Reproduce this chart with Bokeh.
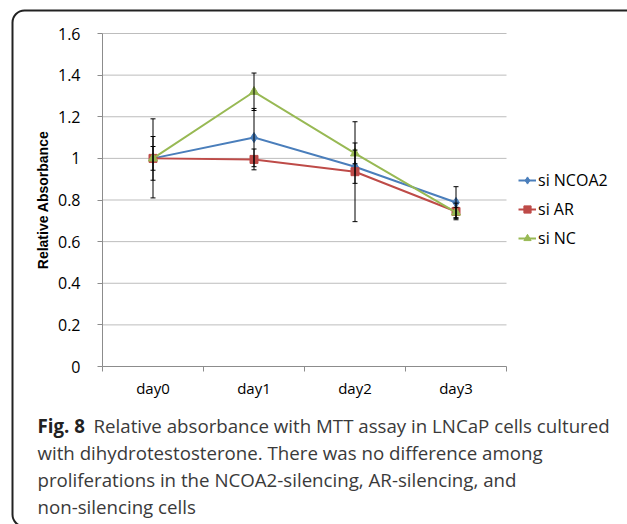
from bokeh.plotting import figure
from bokeh.models import (Range1d, FixedTicker, NumeralTickFormatter, Legend,
                          Label, BoxAnnotation)
from bokeh.embed import file_html
from bokeh.resources import INLINE

days = ["day0", "day1", "day2", "day3"]
ncoa2 = [1.0, 1.10, 0.96, 0.788]
ncoa2_err = [0.105, 0.14, 0.08, 0.076]
ar = [1.0, 0.995, 0.936, 0.745]
ar_err = [0.057, 0.05, 0.24, 0.04]
nc = [1.0, 1.32, 1.024, 0.74]
nc_err = [0.19, 0.09, 0.05, 0.025]
y_ticks = [0, 0.2, 0.4, 0.6, 0.8, 1.0, 1.2, 1.4, 1.6]

caption_bold = "Fig. 8"
caption_lines = [
    "Relative absorbance with MTT assay in LNCaP cells cultured",
    "with dihydrotestosterone. There was no difference among",
    "proliferations in the NCOA2-silencing, AR-silencing, and",
    "non-silencing cells",
]

xs = [i + 0.5 for i in range(len(days))]
y_max = y_ticks[-1]

W, H = 627, 524
# plot area (in canvas pixels) that the data region occupies
PX0, PX1 = 102, 506
PY0, PY1 = 366, 33
sx = (PX1 - PX0) / len(days)
sy = (PY0 - PY1) / y_max

p = figure(width=W, height=H, output_backend="svg", toolbar_location=None,
           x_range=Range1d(-PX0 / sx, (W - PX0) / sx),
           y_range=Range1d(-(H - PY0) / sy, PY0 / sy),
           min_border=0)
p.outline_line_color = None
p.grid.visible = False

xa = p.xaxis[0]
xa.fixed_location = 0
xa.bounds = (0, len(days))
xa.ticker = FixedTicker(ticks=xs, minor_ticks=list(range(len(days) + 1)))
xa.major_label_overrides = {x: d for x, d in zip(xs, days)}
xa.major_tick_out = 0
xa.major_tick_in = 0
xa.minor_tick_out = 5
xa.minor_tick_in = 0
xa.minor_tick_line_color = "#8c8c8c"
xa.axis_line_color = "#8c8c8c"
xa.major_label_text_font = "Open Sans"
xa.major_label_text_font_size = "15px"
xa.major_label_text_color = "black"
xa.major_label_standoff = 6

ya = p.yaxis[0]
ya.fixed_location = 0
ya.bounds = (0, y_max)
ya.ticker = FixedTicker(ticks=y_ticks)
ya.formatter = NumeralTickFormatter(format="0.[0]")
ya.major_tick_out = 5
ya.major_tick_in = 0
ya.minor_tick_line_color = None
ya.major_tick_line_color = "#8c8c8c"
ya.axis_line_color = "#8c8c8c"
ya.major_label_text_font = "Open Sans"
ya.major_label_text_font_size = "16px"
ya.major_label_text_color = "black"
ya.major_label_standoff = 17
ya.axis_label = "Relative Absorbance"
ya.axis_label_text_font = "Liberation Sans"
ya.axis_label_text_font_style = "bold"
ya.axis_label_text_font_size = "14px"
ya.axis_label_text_color = "black"
ya.axis_label_standoff = 4

# horizontal gridlines at the y ticks, across the category span
grid_y = y_ticks[1:]
p.segment(x0=[0] * len(grid_y), y0=grid_y, x1=[len(days)] * len(grid_y),
          y1=grid_y, line_color="#bdbdbd", line_width=1, level="underlay")

series = [
    ("si NCOA2", ncoa2, ncoa2_err, "#4a7ebb", "diamond", 10),
    ("si AR", ar, ar_err, "#be4b48", "square", 8),
    ("si NC", nc, nc_err, "#98b954", "triangle", 9),
]

items = []
for name, vals, errs, color, marker, size in series:
    l = p.line(xs, vals, line_color=color, line_width=2)
    s = p.scatter(xs, vals, marker=marker, size=size, fill_color=color,
                  line_color=color)
    items.append((name, [l, s]))

for name, vals, errs, color, marker, size in series:
    lo = [v - e for v, e in zip(vals, errs)]
    hi = [v + e for v, e in zip(vals, errs)]
    p.segment(xs, lo, xs, hi, line_color="black", line_width=1)
    p.scatter(xs, lo, marker="dash", size=5, line_color="black", line_width=1)
    p.scatter(xs, hi, marker="dash", size=5, line_color="black", line_width=1)

legend = Legend(items=items, location=(518, H - 249), padding=0, margin=0,
                spacing=7, glyph_width=18, glyph_height=20, label_height=20,
                label_standoff=2, border_line_color=None,
                background_fill_alpha=0,
                label_text_font="Open Sans", label_text_font_size="16px",
                label_text_color="black")
p.add_layout(legend)

# caption
cap_x = 37
cap_base = [425, 452, 479, 506]
cap_size = "18.7px"
p.add_layout(Label(x=cap_x, y=H - cap_base[0], x_units="screen",
                   y_units="screen", text=caption_bold, text_font="Open Sans",
                   text_font_style="bold", text_font_size=cap_size,
                   text_color="#222222", text_baseline="alphabetic"))
for i, line in enumerate(caption_lines):
    x = cap_x + (56 if i == 0 else 0)
    p.add_layout(Label(x=x, y=H - cap_base[i], x_units="screen",
                       y_units="screen", text=line, text_font="Open Sans",
                       text_font_size=cap_size, text_color="#3a3a3a",
                       text_baseline="alphabetic"))

# rounded frame (right and bottom edges fall outside the picture)
p.add_layout(BoxAnnotation(left=12, right=W + 80, top=H - 10, bottom=H - 526,
                           left_units="screen", right_units="screen",
                           top_units="screen", bottom_units="screen",
                           fill_color=None, fill_alpha=0,
                           line_color="#222222", line_alpha=1, line_width=2,
                           border_radius=12, level="overlay"))

open("out.html", "w").write(file_html(p, INLINE))
